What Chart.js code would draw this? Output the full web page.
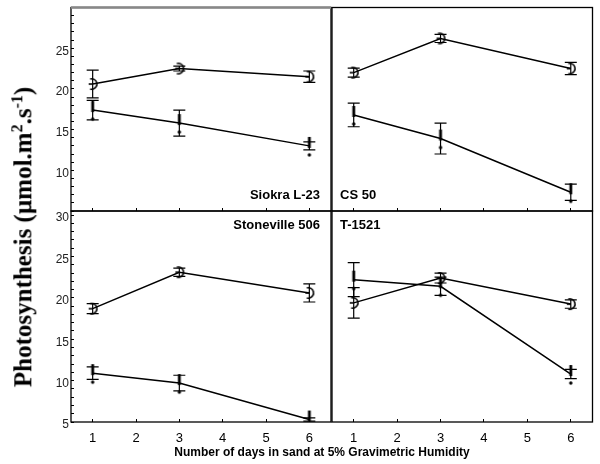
<!DOCTYPE html>
<html>
<head>
<meta charset="utf-8">
<script src="https://cdn.jsdelivr.net/npm/chart.js@4.4.1/dist/chart.umd.min.js"></script>
<style>
  body { margin: 0; background: #fff; }
  #wrap { position: relative; width: 600px; height: 464px; overflow: hidden; background: #fff; }
  #wrap canvas { position: absolute; left: 0; top: 0; }
  #ytitle {
    position: absolute; left: 23px; top: 237px;
    transform: translate(-50%, -50%) rotate(-90deg);
    white-space: nowrap; color: #000;
    font: bold 25px "Liberation Serif", "Times New Roman", serif;
  }
  #ytitle sup { font-size: 16px; }
  #xtitle {
    position: absolute; left: 322px; top: 452px;
    transform: translate(-50%, -50%);
    white-space: nowrap; color: #000;
    font: bold 12px "Liberation Sans", Arial, sans-serif;
  }
</style>
</head>
<body>
<div id="wrap">
  <canvas id="c1" width="600" height="464"></canvas>
  <canvas id="c2" width="600" height="464"></canvas>
  <canvas id="c3" width="600" height="464"></canvas>
  <canvas id="c4" width="600" height="464"></canvas>
  <div id="ytitle">Photosynthesis (µmol.m<sup>2</sup>.s<sup>-1</sup>)</div>
  <div id="xtitle">Number of days in sand at 5% Gravimetric Humidity</div>
</div>
<script>
// sampling days
const days = [1, 3, 6];
const xTicks = [1, 2, 3, 4, 5, 6];
const yTicks = [5, 6, 7, 8, 9, 10, 11, 12, 13, 14, 15, 16, 17, 18, 19, 20, 21, 22, 23, 24, 25, 26, 27, 28, 29, 30];
const yLabelsTop = [10, 15, 20, 25];
const yLabelsBottom = [5, 10, 15, 20, 25, 30];

// open marker series (upper) and filled marker series, +- error
const siokraOpen = [20.6, 22.5, 21.5];
const siokraOpenErr = [1.7, 0.3, 0.7];
const siokraFilled = [17.4, 15.8, 13.0];
const siokraFilledErr = [1.2, 1.6, 0.5];

const cs50Open = [22.0, 26.2, 22.5];
const cs50OpenErr = [0.55, 0.5, 0.75];
const cs50Filled = [16.8, 13.9, 7.3];
const cs50FilledErr = [1.45, 1.9, 1.0];

const stonevilleOpen = [18.7, 23.1, 20.6];
const stonevilleOpenErr = [0.6, 0.5, 1.1];
const stonevilleFilled = [10.9, 9.7, 5.3];
const stonevilleFilledErr = [0.75, 0.95, 0.2];

const t1521Open = [19.4, 22.4, 19.25];
const t1521OpenErr = [1.85, 0.6, 0.5];
const t1521Filled = [22.2, 21.4, 10.8];
const t1521FilledErr = [2.05, 1.1, 0.55];

// marker glyphs
function openMark() {
  const c = document.createElement('canvas');
  c.width = 14; c.height = 16;
  const g = c.getContext('2d');
  g.strokeStyle = '#000';
  g.lineWidth = 1.6;
  g.beginPath();
  g.arc(6, 8, 5.2, -Math.PI / 2 - 0.3, Math.PI / 2 + 0.3);
  g.stroke();
  g.beginPath();
  g.moveTo(3, 8); g.lineTo(7, 8);
  g.stroke();
  return c;
}
function filledMark() {
  const c = document.createElement('canvas');
  c.width = 6; c.height = 26;
  const g = c.getContext('2d');
  g.fillStyle = '#000';
  g.fillRect(1.6, 4, 2.8, 11);
  g.beginPath();
  g.arc(3, 22, 1.7, 0, Math.PI * 2);
  g.fill();
  return c;
}
const openStyle = openMark();
const filledStyle = filledMark();

const errorBars = {
  id: 'errorBars',
  afterDatasetsDraw(chart) {
    const { ctx, scales: { x, y } } = chart;
    ctx.save();
    ctx.strokeStyle = '#000';
    ctx.lineWidth = 1.2;
    chart.data.datasets.forEach(ds => {
      ds.data.forEach((p, i) => {
        const px = x.getPixelForValue(p.x);
        const top = y.getPixelForValue(p.y + ds.errs[i]);
        const bot = y.getPixelForValue(p.y - ds.errs[i]);
        ctx.beginPath();
        ctx.moveTo(px, top); ctx.lineTo(px, bot);
        ctx.moveTo(px - 6, top); ctx.lineTo(px + 6, top);
        ctx.moveTo(px - 6, bot); ctx.lineTo(px + 6, bot);
        ctx.stroke();
      });
    });
    ctx.restore();
  }
};

const frame = {
  id: 'frame',
  afterDraw(chart, args, opts) {
    const { ctx, chartArea: a } = chart;
    ctx.save();
    ctx.strokeStyle = '#000';
    ctx.lineWidth = 1.3;
    ctx.strokeRect(a.left, a.top, a.right - a.left, a.bottom - a.top);
    if (opts.greyTop) {
      ctx.strokeStyle = '#888';
      ctx.lineWidth = 2.5;
      ctx.beginPath();
      ctx.moveTo(a.left, a.top); ctx.lineTo(a.right, a.top);
      ctx.stroke();
    }
    // panel name
    ctx.fillStyle = '#000';
    ctx.font = 'bold 13px "Liberation Sans", Arial, sans-serif';
    ctx.textBaseline = 'middle';
    const ty = opts.nameTop ? a.top + 14 : a.bottom - 16;
    if (opts.nameRight) {
      ctx.textAlign = 'right';
      ctx.fillText(opts.name, a.right - 11, ty);
    } else {
      ctx.textAlign = 'left';
      ctx.fillText(opts.name, a.left + 8, ty);
    }
    ctx.restore();
  }
};

// fixed room for the axis boxes so the plot areas line up exactly
const AXIS_W = 30, AXIS_H = 30;

function panel(id, box, yMax, name, pos, open, openErr, filled, filledErr) {
  const tickFont = { family: '"Liberation Sans", Arial, sans-serif', size: 12 };
  const yLabels = pos.top ? yLabelsTop : yLabelsBottom;
  return new Chart(document.getElementById(id), {
    type: 'line',
    data: {
      datasets: [
        {
          data: days.map((d, i) => ({ x: d, y: open[i] })),
          errs: openErr,
          borderColor: '#000', borderWidth: 1.5,
          pointStyle: openStyle, pointRadius: 6
        },
        {
          data: days.map((d, i) => ({ x: d, y: filled[i] })),
          errs: filledErr,
          borderColor: '#000', borderWidth: 1.5,
          pointStyle: filledStyle, pointRadius: 6
        }
      ]
    },
    options: {
      responsive: false,
      animation: false,
      layout: {
        padding: { left: box[0] - AXIS_W, top: box[1], right: 600 - box[2], bottom: 464 - box[3] - AXIS_H }
      },
      plugins: {
        legend: { display: false },
        tooltip: { enabled: false },
        frame: { name: name, nameRight: !pos.right, nameTop: !pos.top, greyTop: pos.top && !pos.right }
      },
      scales: {
        x: {
          type: 'linear', min: 0.5, max: 6.5,
          afterFit: s => { s.height = AXIS_H; s.paddingLeft = 0; s.paddingRight = 0; },
          afterBuildTicks: s => { s.ticks = xTicks.map(v => ({ value: v })); },
          border: { display: false },
          grid: { drawOnChartArea: false, tickLength: -3, color: '#000', lineWidth: 1 },
          ticks: {
            display: !pos.top, autoSkip: false, maxRotation: 0, padding: 12, color: '#000',
            font: { family: '"Liberation Sans", Arial, sans-serif', size: 13 }
          }
        },
        y: {
          min: 5, max: yMax,
          afterFit: s => { s.width = AXIS_W; s.paddingTop = 0; s.paddingBottom = 0; },
          afterBuildTicks: s => { s.ticks = yTicks.map(v => ({ value: v })); },
          border: { display: false },
          grid: { display: !pos.right, drawOnChartArea: false, tickLength: -3, color: '#000', lineWidth: 1 },
          ticks: {
            display: !pos.right, autoSkip: false, padding: 5, color: '#222', font: tickFont, labelOffset: 3,
            callback: v => yLabels.includes(v) ? String(v) : ''
          }
        }
      }
    },
    plugins: [errorBars, frame]
  });
}

panel('c1', [71, 5, 331, 211], 30, 'Siokra L-23', { top: true, right: false },
  siokraOpen, siokraOpenErr, siokraFilled, siokraFilledErr);
panel('c2', [332, 5, 598, 211], 30, 'CS 50', { top: true, right: true },
  cs50Open, cs50OpenErr, cs50Filled, cs50FilledErr);
panel('c3', [71, 211, 331, 422], 30.5, 'Stoneville 506', { top: false, right: false },
  stonevilleOpen, stonevilleOpenErr, stonevilleFilled, stonevilleFilledErr);
panel('c4', [332, 211, 598, 422], 30.5, 'T-1521', { top: false, right: true },
  t1521Open, t1521OpenErr, t1521Filled, t1521FilledErr);
</script>
</body>
</html>
